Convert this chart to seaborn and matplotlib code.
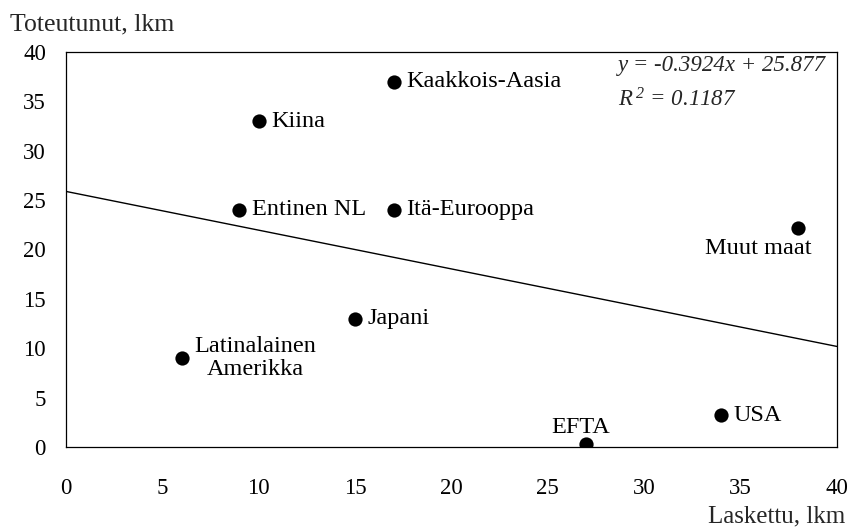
import matplotlib
matplotlib.use("Agg")
import matplotlib.pyplot as plt
import seaborn as sns
import numpy as np
import pandas as pd

# Regions: computed vs realised values (lkm)
regions = ["Kaakkois-Aasia", "Kiina", "Entinen NL", "Itä-Eurooppa", "Muut maat",
           "Japani", "Latinalainen\nAmerikka", "USA", "EFTA"]
laskettu = [17, 10, 9, 17, 38, 15, 6, 34, 27]
toteutunut = [37, 33, 24, 24, 22.2, 13, 9, 3.2, 0.3]

# Linear trend as reported
slope = -0.3924
intercept = 25.877
r_squared = 0.1187

x_ticks = [0, 5, 10, 15, 20, 25, 30, 35, 40]
y_ticks = [0, 5, 10, 15, 20, 25, 30, 35, 40]

df = pd.DataFrame({"region": regions, "laskettu": laskettu, "toteutunut": toteutunut})

sns.set_theme(style="white")
plt.rcParams["font.family"] = ["Liberation Serif", "DejaVu Serif"]
plt.rcParams["mathtext.fontset"] = "custom"
plt.rcParams["mathtext.it"] = "Liberation Serif:italic"
plt.rcParams["mathtext.rm"] = "Liberation Serif:italic"

fig = plt.figure(figsize=(8.51, 5.30), dpi=100)
ax = fig.add_axes([0.0776, 0.1566, 0.9059, 0.7454])

# trend line over the full x range
tx = np.array([x_ticks[0], x_ticks[-1]], dtype=float)
trend = pd.DataFrame({"x": tx, "y": slope * tx + intercept})
sns.lineplot(data=trend, x="x", y="y", ax=ax, color="black", linewidth=1.0)

sns.scatterplot(data=df, x="laskettu", y="toteutunut", ax=ax, color="black",
                s=105, edgecolor="black", linewidth=0, zorder=3)

# point labels
offsets = {
    "Muut maat": ((-29, -15), "center", "center"),
    "EFTA": ((-4, 12), "center", "center"),
}
for name, xv, yv in zip(regions, laskettu, toteutunut):
    off, ha, va = offsets.get(name, ((9, 0), "left", "center"))
    ax.annotate(name, (xv, yv), xytext=off, textcoords="offset points",
                ha=ha, va=va, fontsize=17.5, multialignment="center", color="black",
                linespacing=1.1)

ax.set_xlim(0, 40)
ax.set_ylim(0, 40)
ax.set_xticks(x_ticks)
ax.set_yticks(y_ticks)
ax.set_xticklabels([str(v) for v in x_ticks], fontsize=16.5)
ax.set_yticklabels([str(v) for v in y_ticks], fontsize=16.5)
ax.tick_params(axis="x", direction="inout", length=11, width=0.8, pad=17, colors="black")
ax.tick_params(axis="y", direction="inout", length=11, width=0.8, pad=9, colors="black")
for sp in ax.spines.values():
    sp.set_visible(True)
    sp.set_color("black")
    sp.set_linewidth(0.9)
ax.set_xlabel("")
ax.set_ylabel("")

fig.text(0.012, 0.953, "Toteutunut, lkm", fontsize=18.5, ha="left", va="center")
fig.text(0.993, 0.026, "Laskettu, lkm", fontsize=18, ha="right", va="center")

fig.text(0.726, 0.877, f"y = {slope}x + {intercept}",
         fontsize=16.5, style="italic", ha="left", va="center")
fig.text(0.726, 0.811, f"$R^{{\\,2}}$ = {r_squared}",
         fontsize=16.5, style="italic", ha="left", va="center")

fig.savefig("out.png", dpi=100)
